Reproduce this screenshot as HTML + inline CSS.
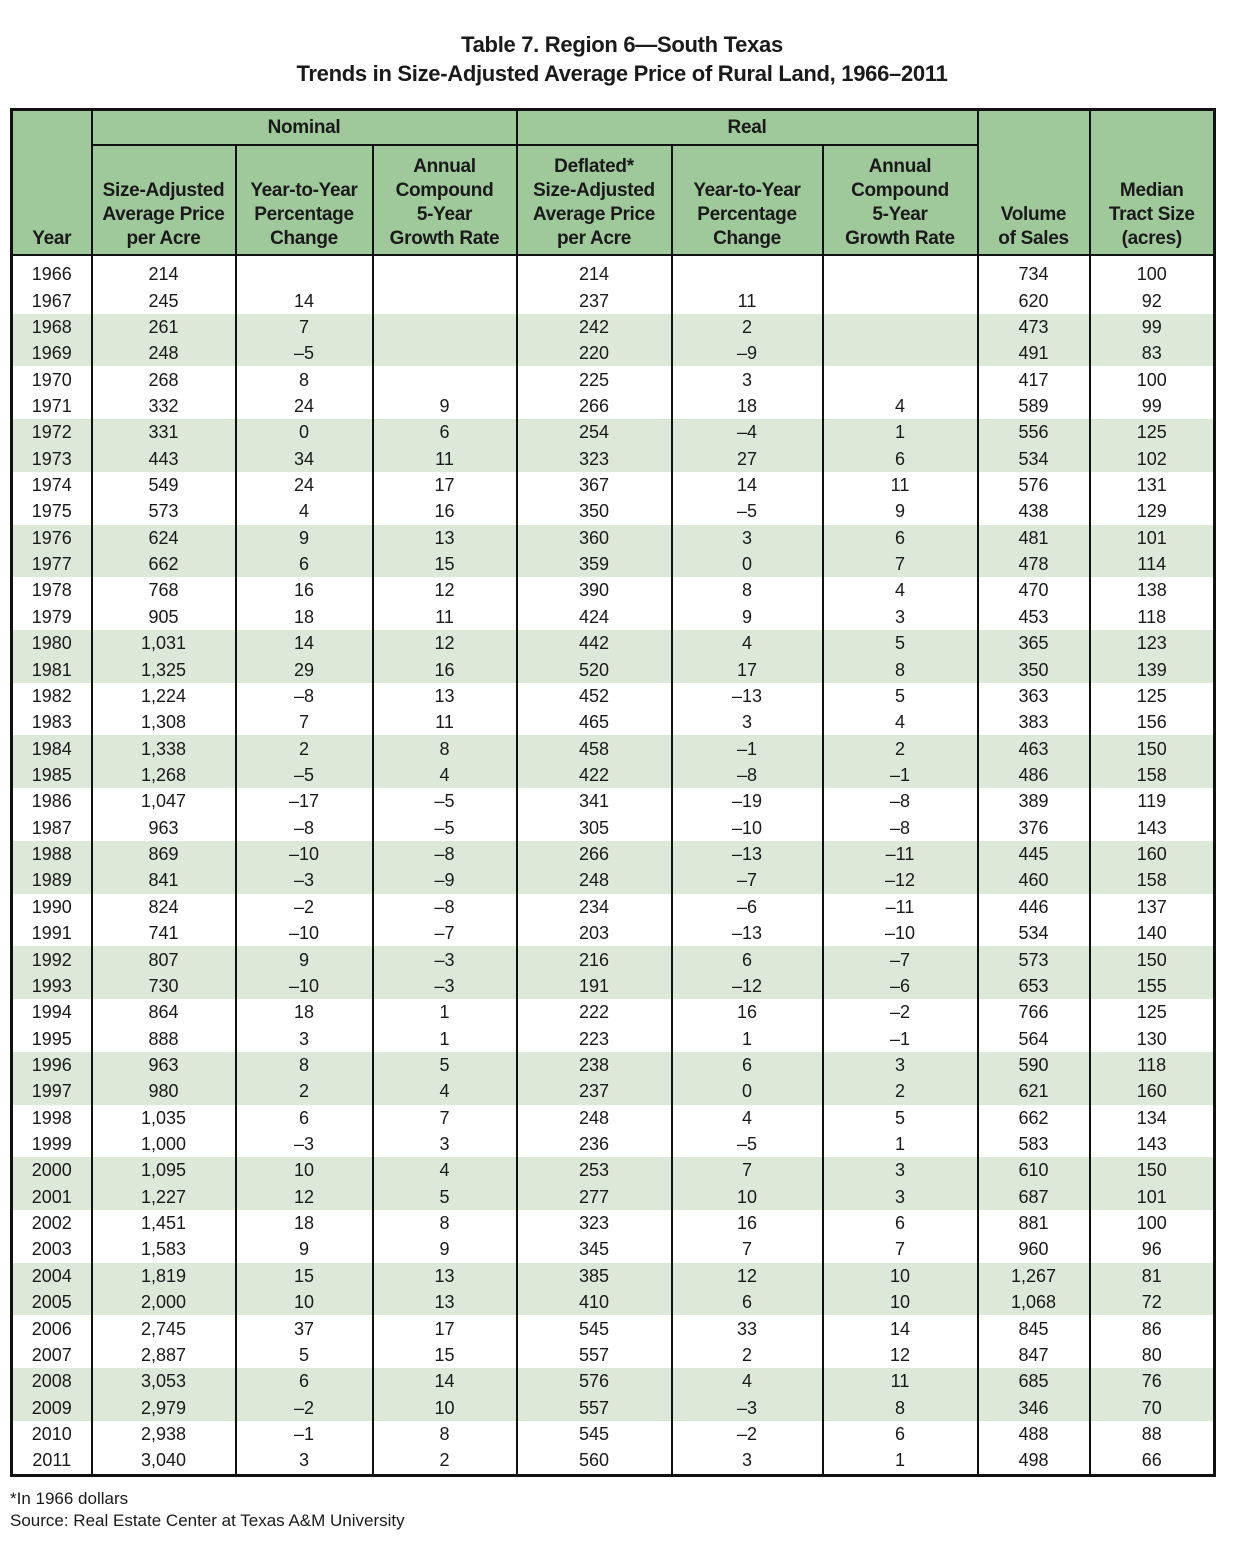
<!DOCTYPE html>
<html><head><meta charset="utf-8"><style>
body{margin:0;width:1244px;height:1541px;background:#fff;font-family:"Liberation Sans",sans-serif;color:#1a1a1a;position:relative;overflow:hidden}
.t{position:absolute;left:0;width:1244px;text-align:center;font-weight:bold;font-size:22px;letter-spacing:-0.3px}
table{position:absolute;left:10px;top:108px;border-collapse:collapse;table-layout:fixed;border:3px solid #111}
th{background:#9fc99b;font-size:19px;line-height:24px;font-weight:bold;border:2px solid #111;padding:0;vertical-align:bottom;letter-spacing:-0.3px}
th.top{height:33px;vertical-align:middle}
th.sub{height:105px;padding-bottom:3px}
td{font-size:18px;height:26.36px;padding:0;text-align:center;border-left:2px solid #111;border-right:2px solid #111;line-height:26px}
tr.s td{background:#dce9d8}
tr.sp td{height:5px;line-height:5px}
.f{position:absolute;left:10px;font-size:17px}
</style></head><body>
<div class="t" style="top:32px">Table 7. Region 6—South Texas</div>
<div class="t" style="top:61px">Trends in Size-Adjusted Average Price of Rural Land, 1966–2011</div>
<table>
<colgroup><col style="width:80px"><col style="width:144px"><col style="width:137px"><col style="width:144px"><col style="width:155px"><col style="width:151px"><col style="width:155px"><col style="width:112px"><col style="width:125px"></colgroup>
<tr><th rowspan="2" style="padding-bottom:3px">Year</th><th colspan="3" class="top">Nominal</th><th colspan="3" class="top">Real</th><th rowspan="2" style="padding-bottom:3px">Volume<br>of Sales</th><th rowspan="2" style="padding-bottom:3px">Median<br>Tract Size<br>(acres)</th></tr>
<tr><th class="sub">Size-Adjusted<br>Average Price<br>per Acre</th><th class="sub">Year-to-Year<br>Percentage<br>Change</th><th class="sub">Annual<br>Compound<br>5-Year<br>Growth Rate</th><th class="sub">Deflated*<br>Size-Adjusted<br>Average Price<br>per Acre</th><th class="sub">Year-to-Year<br>Percentage<br>Change</th><th class="sub">Annual<br>Compound<br>5-Year<br>Growth Rate</th></tr>
<tr class="sp"><td></td><td></td><td></td><td></td><td></td><td></td><td></td><td></td><td></td></tr>
<tr><td>1966</td><td>214</td><td></td><td></td><td>214</td><td></td><td></td><td>734</td><td>100</td></tr>
<tr><td>1967</td><td>245</td><td>14</td><td></td><td>237</td><td>11</td><td></td><td>620</td><td>92</td></tr>
<tr class="s"><td>1968</td><td>261</td><td>7</td><td></td><td>242</td><td>2</td><td></td><td>473</td><td>99</td></tr>
<tr class="s"><td>1969</td><td>248</td><td>–5</td><td></td><td>220</td><td>–9</td><td></td><td>491</td><td>83</td></tr>
<tr><td>1970</td><td>268</td><td>8</td><td></td><td>225</td><td>3</td><td></td><td>417</td><td>100</td></tr>
<tr><td>1971</td><td>332</td><td>24</td><td>9</td><td>266</td><td>18</td><td>4</td><td>589</td><td>99</td></tr>
<tr class="s"><td>1972</td><td>331</td><td>0</td><td>6</td><td>254</td><td>–4</td><td>1</td><td>556</td><td>125</td></tr>
<tr class="s"><td>1973</td><td>443</td><td>34</td><td>11</td><td>323</td><td>27</td><td>6</td><td>534</td><td>102</td></tr>
<tr><td>1974</td><td>549</td><td>24</td><td>17</td><td>367</td><td>14</td><td>11</td><td>576</td><td>131</td></tr>
<tr><td>1975</td><td>573</td><td>4</td><td>16</td><td>350</td><td>–5</td><td>9</td><td>438</td><td>129</td></tr>
<tr class="s"><td>1976</td><td>624</td><td>9</td><td>13</td><td>360</td><td>3</td><td>6</td><td>481</td><td>101</td></tr>
<tr class="s"><td>1977</td><td>662</td><td>6</td><td>15</td><td>359</td><td>0</td><td>7</td><td>478</td><td>114</td></tr>
<tr><td>1978</td><td>768</td><td>16</td><td>12</td><td>390</td><td>8</td><td>4</td><td>470</td><td>138</td></tr>
<tr><td>1979</td><td>905</td><td>18</td><td>11</td><td>424</td><td>9</td><td>3</td><td>453</td><td>118</td></tr>
<tr class="s"><td>1980</td><td>1,031</td><td>14</td><td>12</td><td>442</td><td>4</td><td>5</td><td>365</td><td>123</td></tr>
<tr class="s"><td>1981</td><td>1,325</td><td>29</td><td>16</td><td>520</td><td>17</td><td>8</td><td>350</td><td>139</td></tr>
<tr><td>1982</td><td>1,224</td><td>–8</td><td>13</td><td>452</td><td>–13</td><td>5</td><td>363</td><td>125</td></tr>
<tr><td>1983</td><td>1,308</td><td>7</td><td>11</td><td>465</td><td>3</td><td>4</td><td>383</td><td>156</td></tr>
<tr class="s"><td>1984</td><td>1,338</td><td>2</td><td>8</td><td>458</td><td>–1</td><td>2</td><td>463</td><td>150</td></tr>
<tr class="s"><td>1985</td><td>1,268</td><td>–5</td><td>4</td><td>422</td><td>–8</td><td>–1</td><td>486</td><td>158</td></tr>
<tr><td>1986</td><td>1,047</td><td>–17</td><td>–5</td><td>341</td><td>–19</td><td>–8</td><td>389</td><td>119</td></tr>
<tr><td>1987</td><td>963</td><td>–8</td><td>–5</td><td>305</td><td>–10</td><td>–8</td><td>376</td><td>143</td></tr>
<tr class="s"><td>1988</td><td>869</td><td>–10</td><td>–8</td><td>266</td><td>–13</td><td>–11</td><td>445</td><td>160</td></tr>
<tr class="s"><td>1989</td><td>841</td><td>–3</td><td>–9</td><td>248</td><td>–7</td><td>–12</td><td>460</td><td>158</td></tr>
<tr><td>1990</td><td>824</td><td>–2</td><td>–8</td><td>234</td><td>–6</td><td>–11</td><td>446</td><td>137</td></tr>
<tr><td>1991</td><td>741</td><td>–10</td><td>–7</td><td>203</td><td>–13</td><td>–10</td><td>534</td><td>140</td></tr>
<tr class="s"><td>1992</td><td>807</td><td>9</td><td>–3</td><td>216</td><td>6</td><td>–7</td><td>573</td><td>150</td></tr>
<tr class="s"><td>1993</td><td>730</td><td>–10</td><td>–3</td><td>191</td><td>–12</td><td>–6</td><td>653</td><td>155</td></tr>
<tr><td>1994</td><td>864</td><td>18</td><td>1</td><td>222</td><td>16</td><td>–2</td><td>766</td><td>125</td></tr>
<tr><td>1995</td><td>888</td><td>3</td><td>1</td><td>223</td><td>1</td><td>–1</td><td>564</td><td>130</td></tr>
<tr class="s"><td>1996</td><td>963</td><td>8</td><td>5</td><td>238</td><td>6</td><td>3</td><td>590</td><td>118</td></tr>
<tr class="s"><td>1997</td><td>980</td><td>2</td><td>4</td><td>237</td><td>0</td><td>2</td><td>621</td><td>160</td></tr>
<tr><td>1998</td><td>1,035</td><td>6</td><td>7</td><td>248</td><td>4</td><td>5</td><td>662</td><td>134</td></tr>
<tr><td>1999</td><td>1,000</td><td>–3</td><td>3</td><td>236</td><td>–5</td><td>1</td><td>583</td><td>143</td></tr>
<tr class="s"><td>2000</td><td>1,095</td><td>10</td><td>4</td><td>253</td><td>7</td><td>3</td><td>610</td><td>150</td></tr>
<tr class="s"><td>2001</td><td>1,227</td><td>12</td><td>5</td><td>277</td><td>10</td><td>3</td><td>687</td><td>101</td></tr>
<tr><td>2002</td><td>1,451</td><td>18</td><td>8</td><td>323</td><td>16</td><td>6</td><td>881</td><td>100</td></tr>
<tr><td>2003</td><td>1,583</td><td>9</td><td>9</td><td>345</td><td>7</td><td>7</td><td>960</td><td>96</td></tr>
<tr class="s"><td>2004</td><td>1,819</td><td>15</td><td>13</td><td>385</td><td>12</td><td>10</td><td>1,267</td><td>81</td></tr>
<tr class="s"><td>2005</td><td>2,000</td><td>10</td><td>13</td><td>410</td><td>6</td><td>10</td><td>1,068</td><td>72</td></tr>
<tr><td>2006</td><td>2,745</td><td>37</td><td>17</td><td>545</td><td>33</td><td>14</td><td>845</td><td>86</td></tr>
<tr><td>2007</td><td>2,887</td><td>5</td><td>15</td><td>557</td><td>2</td><td>12</td><td>847</td><td>80</td></tr>
<tr class="s"><td>2008</td><td>3,053</td><td>6</td><td>14</td><td>576</td><td>4</td><td>11</td><td>685</td><td>76</td></tr>
<tr class="s"><td>2009</td><td>2,979</td><td>–2</td><td>10</td><td>557</td><td>–3</td><td>8</td><td>346</td><td>70</td></tr>
<tr><td>2010</td><td>2,938</td><td>–1</td><td>8</td><td>545</td><td>–2</td><td>6</td><td>488</td><td>88</td></tr>
<tr><td>2011</td><td>3,040</td><td>3</td><td>2</td><td>560</td><td>3</td><td>1</td><td>498</td><td>66</td></tr>
</table>
<div class="f" style="top:1489px">*In 1966 dollars</div>
<div class="f" style="top:1511px">Source: Real Estate Center at Texas A&amp;M University</div>
</body></html>
